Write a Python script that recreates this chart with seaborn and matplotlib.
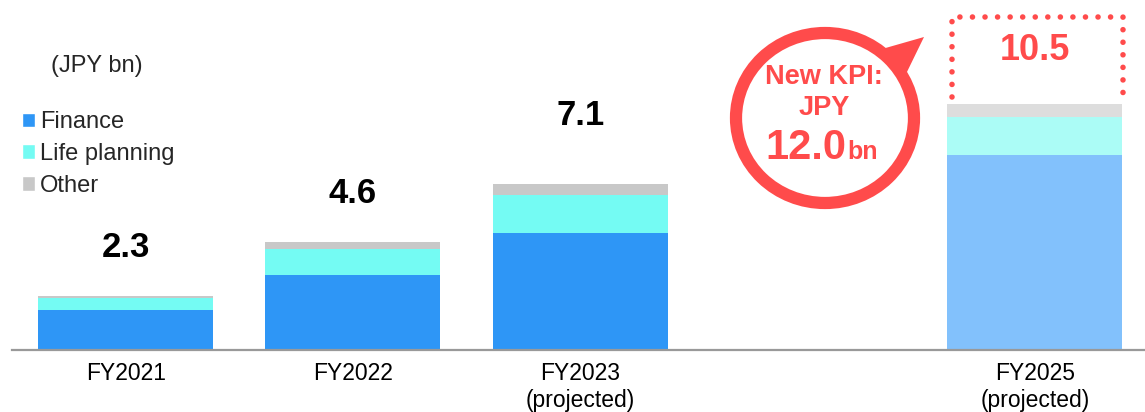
import matplotlib
matplotlib.use('Agg')
import matplotlib.pyplot as plt
import seaborn as sns
import pandas as pd
from matplotlib.patches import Patch, Ellipse, Polygon
from matplotlib.lines import Line2D

# data (JPY bn)
years = ['FY2021', 'FY2022', 'FY2023\n(projected)', 'FY2025\n(projected)']
finance = [1.7, 3.2, 5.0, 8.3]
life_planning = [0.5, 1.1, 1.6, 1.65]
other = [0.1, 0.3, 0.5, 0.55]
total_labels = ['2.3', '4.6', '7.1', '10.5']
kpi_target = '12.0'

sns.set_style('white')
plt.rcParams['font.family'] = ['Liberation Sans', 'DejaVu Sans']

RED = '#FF4B4B'
fin_pal = {y: '#2E96F6' for y in years}
life_pal = {y: '#74FBF3' for y in years}
oth_pal = {y: '#C8C8C8' for y in years}
fin_pal[years[-1]] = '#82C1FC'
life_pal[years[-1]] = '#ABFCF6'
oth_pal[years[-1]] = '#DDDDDD'

df = pd.DataFrame({'year': years, 'finance': finance,
                   'life': life_planning, 'other': other})
df['fin_life'] = df['finance'] + df['life']
df['total'] = df['fin_life'] + df['other']

# empty slot between FY2023 and FY2025
order = years[:3] + [' '] + years[3:]

W, H = 1145, 412
fig = plt.figure(figsize=(W / 100, H / 100), dpi=100)
ax = fig.add_axes([12 / W, 62 / H, 1133 / W, 350 / H])

for col, pal in [('total', oth_pal), ('fin_life', life_pal), ('finance', fin_pal)]:
    sns.barplot(data=df, x='year', y=col, hue='year', order=order, hue_order=years,
                palette=pal, width=0.77, saturation=1, legend=False,
                linewidth=0, ax=ax)

ax.set_xlim(-0.5, 4.485)
ax.set_ylim(0, 350 / 23.45)
ax.set_xlabel('')
ax.set_ylabel('')
ax.set_yticks([])
for s in ['left', 'right', 'top']:
    ax.spines[s].set_visible(False)
ax.spines['bottom'].set_color('#999999')
ax.spines['bottom'].set_linewidth(1.6)
ax.tick_params(axis='x', length=0, pad=9, labelsize=16.5, labelcolor='black')
for lab in ax.get_xticklabels():
    lab.set_linespacing(1.22)

# value labels above the bars
offsets = [35, 35, 49]
for i, year in enumerate(years[:3]):
    pos = order.index(year)
    ax.annotate(total_labels[i], (pos, df['total'][i]), xytext=(0, offsets[i]),
                textcoords='offset points', ha='center', va='center',
                fontsize=25, fontweight='bold', color='black')
pos25 = order.index(years[3])
ax.annotate(total_labels[3], (pos25, df['total'][3]), xytext=(0, 38),
            textcoords='offset points', ha='center', va='center',
            fontsize=26, fontweight='bold', color=RED)

# legend
handles = [Patch(facecolor=fin_pal[years[0]], label='Finance'),
           Patch(facecolor=life_pal[years[0]], label='Life planning'),
           Patch(facecolor=oth_pal[years[0]], label='Other')]
ax.legend(handles=handles, loc='upper left', frameon=False, fontsize=17,
          handlelength=0.55, handleheight=0.55, handletextpad=0.22,
          labelspacing=0.42, borderpad=0, borderaxespad=0,
          bbox_to_anchor=(22 / W, 1 - 111 / H), bbox_transform=fig.transFigure)
fig.text(51 / W, 1 - 66 / H, '(JPY bn)', fontsize=17, ha='left', va='center')

# callout overlay in pixel coords
ov = fig.add_axes([0, 0, 1, 1], facecolor='none')
ov.set_xlim(0, W)
ov.set_ylim(H, 0)
ov.axis('off')

ov.add_patch(Polygon([(882, 49), (924, 37), (905, 76)], closed=True,
                     facecolor=RED, edgecolor='none'))
ov.add_patch(Ellipse((825, 118), 178, 170, facecolor='white', edgecolor=RED,
                     linewidth=8.8))
ov.text(824, 77, 'New KPI:', fontsize=19.5, fontweight='bold', color=RED,
        ha='center', va='center')
ov.text(824, 108, 'JPY', fontsize=19.5, fontweight='bold', color=RED,
        ha='center', va='center')
ov.text(846, 159, kpi_target, fontsize=30, fontweight='bold', color=RED,
        ha='right', va='baseline')
ov.text(847, 159, 'bn', fontsize=18, fontweight='bold', color=RED,
        ha='left', va='baseline')

box = Line2D([952, 952, 1123, 1123], [97, 17, 17, 97], color=RED,
             linewidth=4, linestyle=(0, (0.01, 2.25)),
             dash_capstyle='round', solid_capstyle='round')
ov.add_line(box)

fig.savefig('out.png', dpi=100)
